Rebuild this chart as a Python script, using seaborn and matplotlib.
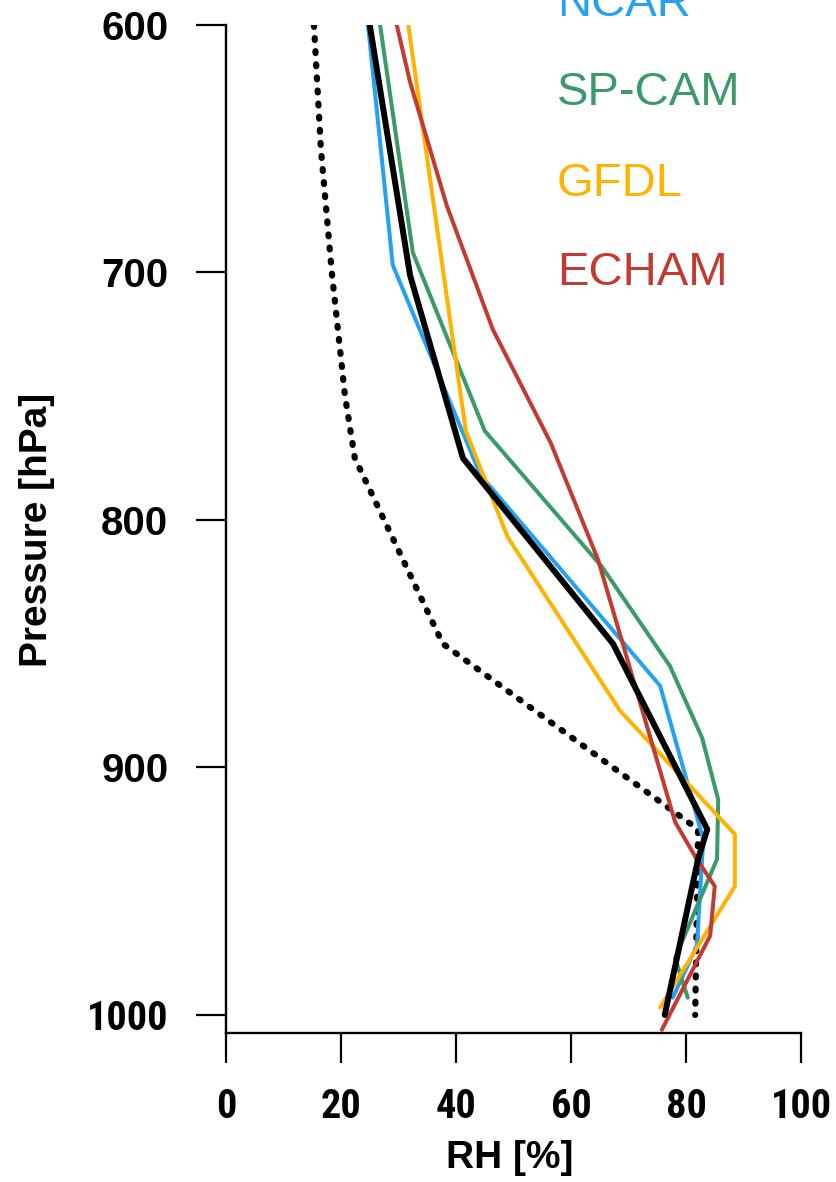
import matplotlib
matplotlib.use("Agg")
import matplotlib.pyplot as plt
from matplotlib import font_manager
import seaborn as sns
import pandas as pd

# ---- data ----
obs_dot_p = [600, 650, 700, 750, 775, 850, 925, 1000]
obs_dot_rh = [15.3, 16.5, 18.4, 20.7, 22.4, 37.7, 82.1, 81.6]

obs_p = [600, 701, 775, 850, 925, 937, 1000]
obs_rh = [25.0, 32.0, 41.2, 67.3, 83.7, 82.1, 76.3]

ncar_p = [600, 697, 782, 867, 929, 972, 993]
ncar_rh = [24.7, 29.0, 44.3, 75.5, 83.0, 81.9, 77.7]

spcam_p = [600, 692, 764, 819, 859, 888, 913, 937, 977, 993]
spcam_rh = [26.8, 32.5, 45.0, 65.4, 77.2, 82.8, 85.6, 85.4, 78.1, 80.3]

gfdl_p = [600, 764, 807, 877, 927, 948, 997]
gfdl_rh = [31.7, 41.7, 49.0, 68.5, 88.5, 88.5, 75.5]

echam_p = [600, 623, 673, 723, 769, 816, 922, 936, 948, 968, 1006]
echam_rh = [29.7, 32.0, 38.4, 46.4, 56.5, 64.7, 78.1, 81.6, 85.0, 84.2, 75.8]

model_names = ["NCAR", "SP-CAM", "GFDL", "ECHAM"]
model_colors = ["#25A1F2", "#3A9A68", "#FFB300", "#C23B30"]

x_ticks = [0, 20, 40, 60, 80, 100]
y_ticks = [600, 700, 800, 900, 1000]

# ---- style ----
sns.set_theme(style="white")
plt.rcParams["font.family"] = ["Liberation Sans", "DejaVu Sans"]


def has_font(name):
    try:
        font_manager.findfont(font_manager.FontProperties(family=name),
                              fallback_to_default=False)
        return True
    except Exception:
        return False


narrow = None
for cand in ["Liberation Sans Narrow", "DejaVu Sans Condensed", "Roboto Condensed"]:
    if has_font(cand):
        narrow = cand
        break

W, H = 837, 1182
fig = plt.figure(figsize=(W / 100, H / 100), dpi=100)
ax = fig.add_axes([226 / W, (H - 1033) / H, 575 / W, (1033 - 25) / H])

dot = pd.DataFrame({"rh": obs_dot_rh, "p": obs_dot_p})
sns.lineplot(data=dot, x="rh", y="p", sort=False, estimator=None, ax=ax,
             color="black", lw=4.5, dashes=False)
ax.lines[-1].set_linestyle((0, (0.3, 1.8)))
ax.lines[-1].set_dash_capstyle("round")

series = [(ncar_p, ncar_rh), (spcam_p, spcam_rh), (gfdl_p, gfdl_rh), (echam_p, echam_rh)]
for (pp, rr), c in zip(series, model_colors):
    d = pd.DataFrame({"rh": rr, "p": pp})
    sns.lineplot(data=d, x="rh", y="p", sort=False, estimator=None, ax=ax,
                 color=c, lw=2.9)

ob = pd.DataFrame({"rh": obs_rh, "p": obs_p})
sns.lineplot(data=ob, x="rh", y="p", sort=False, estimator=None, ax=ax,
             color="black", lw=4.3)

ax.set_xlim(0, 100)
ax.set_ylim(1007.3, 600)
ax.set_xticks(x_ticks)
ax.set_yticks(y_ticks)
ax.set_xticklabels([str(v) for v in x_ticks])
ax.set_yticklabels([str(v) for v in y_ticks])
for s in ["top", "right"]:
    ax.spines[s].set_visible(False)
for s in ["left", "bottom"]:
    ax.spines[s].set_color("black")
    ax.spines[s].set_linewidth(1.7)
ax.tick_params(axis="both", direction="out", length=21.5, width=1.6,
               colors="black", left=True, bottom=True)
ax.tick_params(axis="y", pad=20)
ax.tick_params(axis="x", pad=18)
ax.grid(False)

for lab in ax.get_yticklabels():
    lab.set_fontsize(29)
    lab.set_fontweight("bold")
    if lab.get_text() == "1000" and narrow:
        lab.set_family(narrow)
for lab in ax.get_xticklabels():
    lab.set_fontsize(29)
    lab.set_fontweight("bold")
    if narrow:
        lab.set_family(narrow)

ax.set_xlabel("")
ax.set_ylabel("")
fig.text(510 / W, 1 - 1158 / H, "RH [%]", ha="center", va="center",
         fontsize=28, fontweight="bold", color="black")
fig.text(37 / W, 1 - 530 / H, "Pressure [hPa]", ha="center", va="center",
         rotation=90, fontsize=28, fontweight="bold", color="black")

baselines = [16, 105, 196, 285]
for name, c, b in zip(model_names, model_colors, baselines):
    fig.text(557 / W, 1 - b / H, name, ha="left", va="baseline",
             fontsize=34, color=c)

fig.savefig("out.png", dpi=100)
